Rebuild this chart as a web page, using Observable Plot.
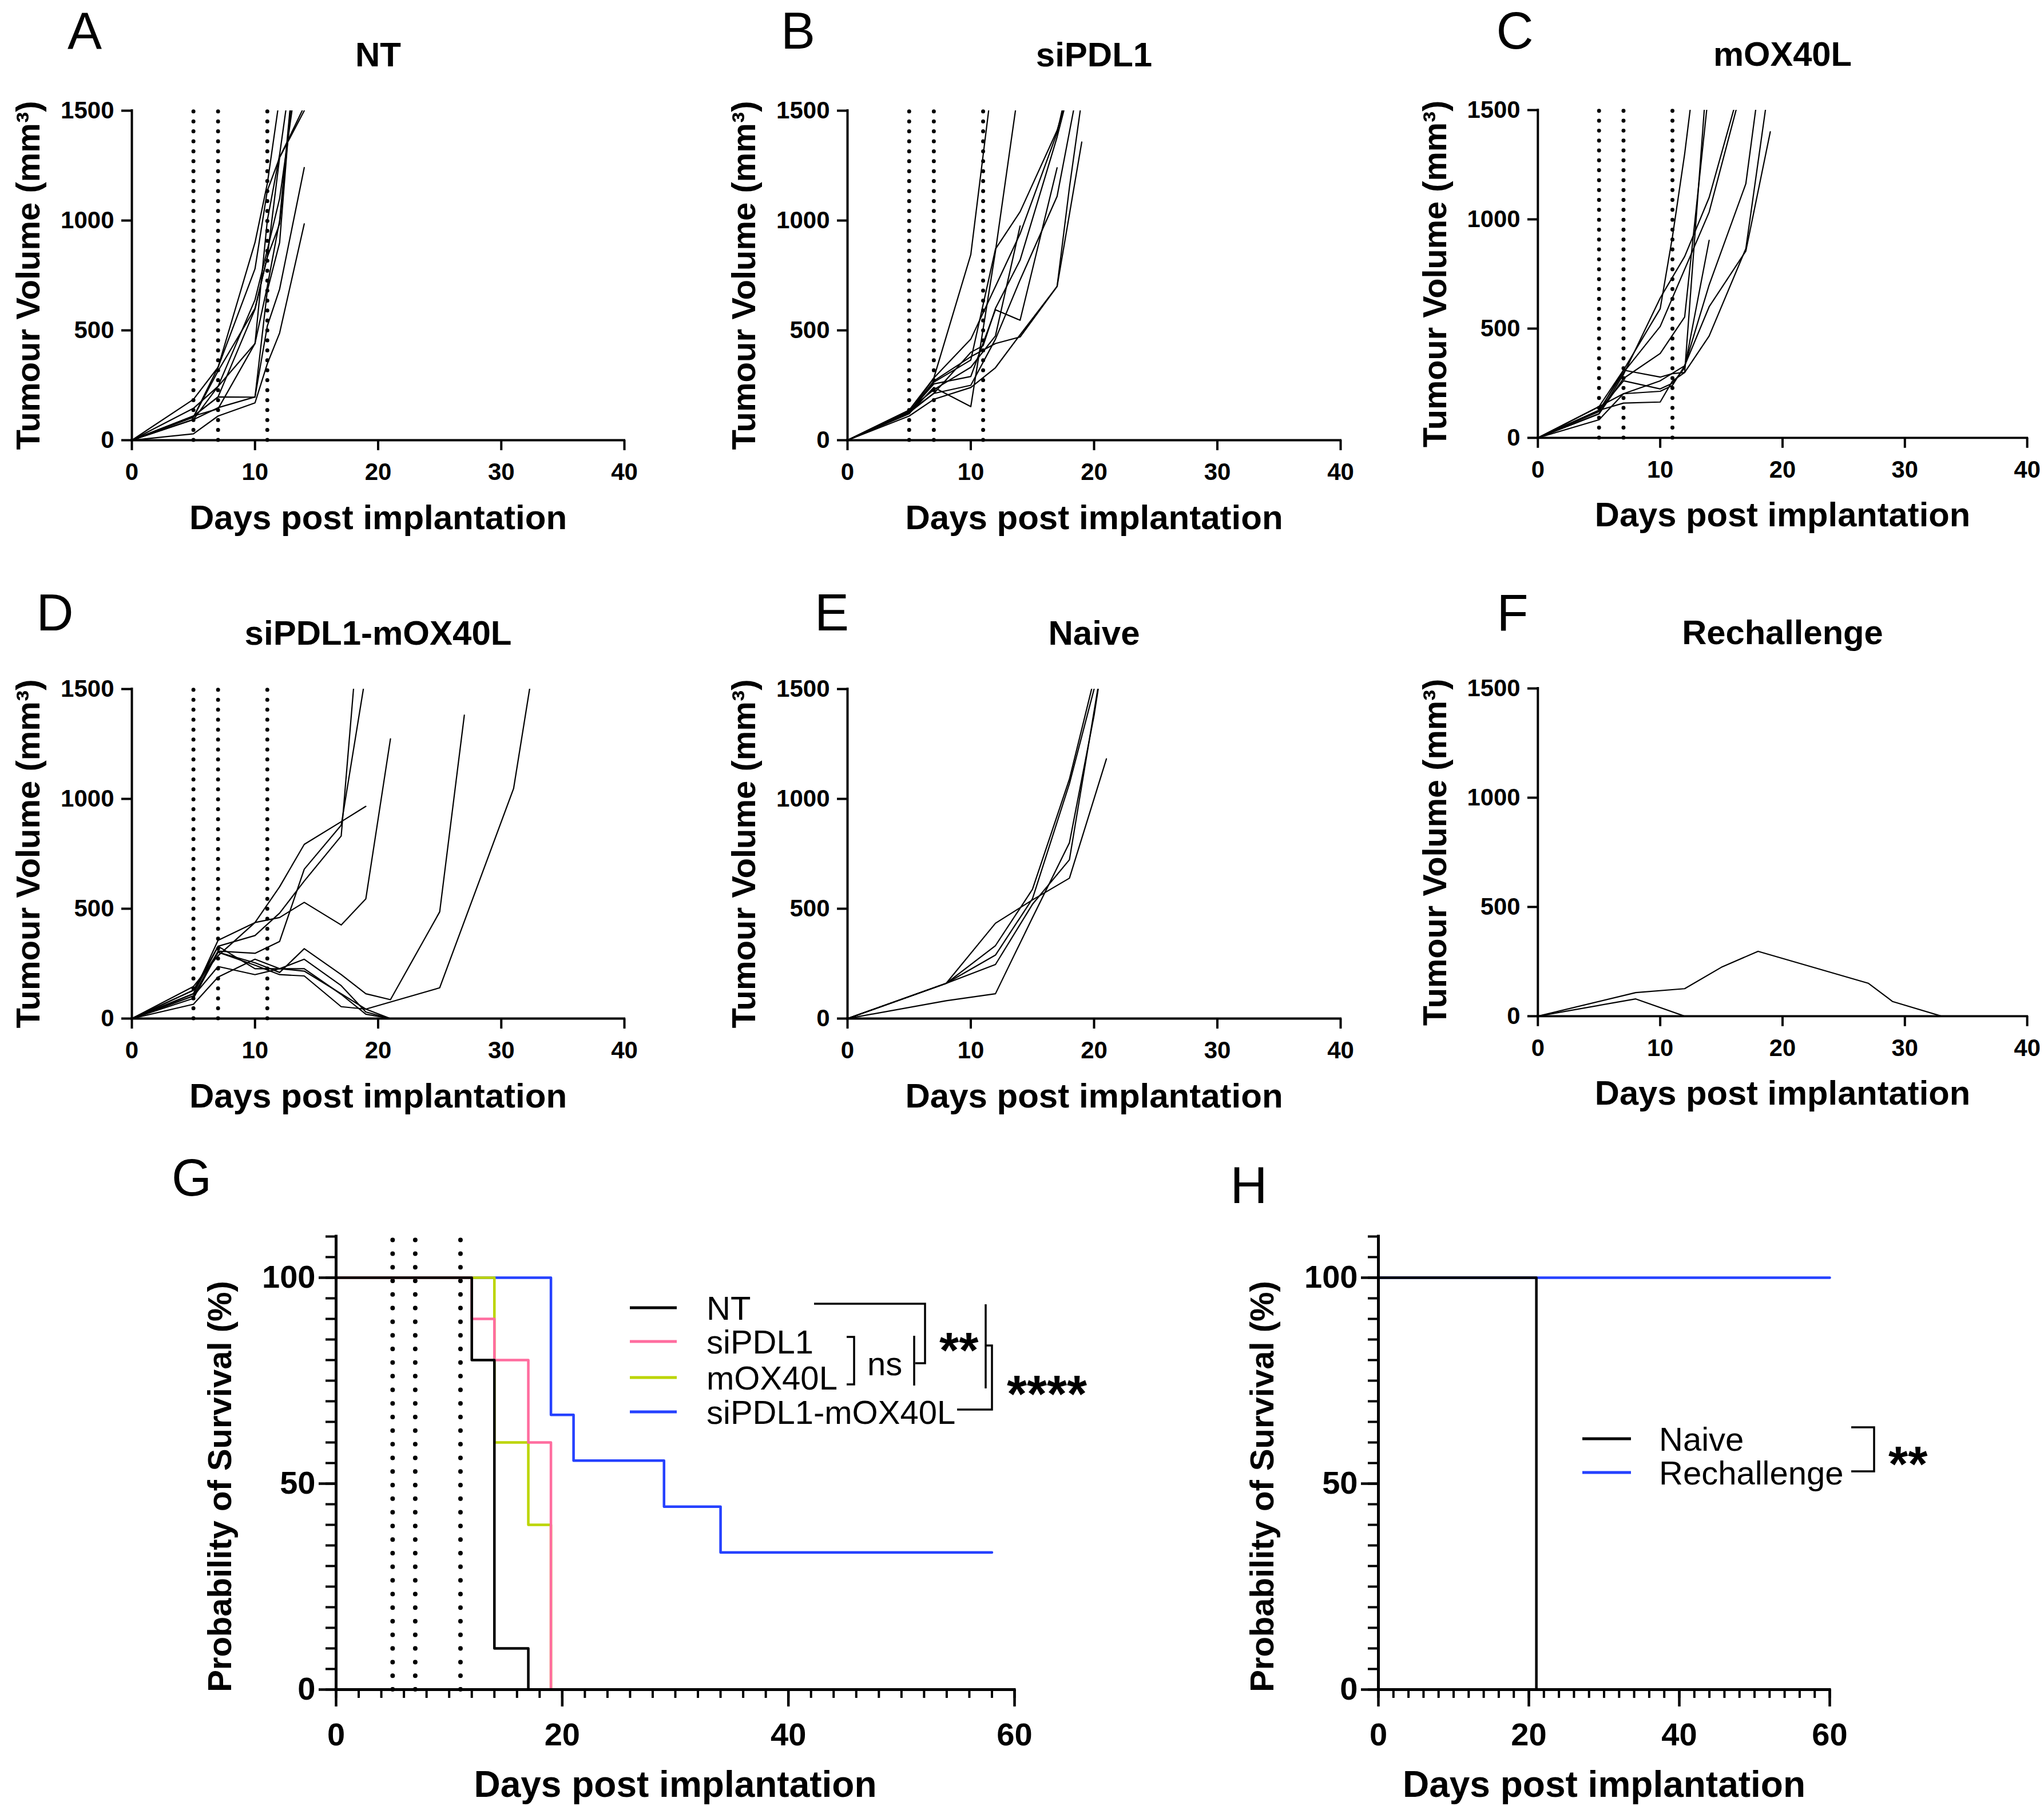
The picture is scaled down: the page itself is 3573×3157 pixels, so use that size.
<!DOCTYPE html>
<html><head><meta charset="utf-8">
<script src="https://cdn.jsdelivr.net/npm/d3@7"></script>
<script src="https://cdn.jsdelivr.net/npm/@observablehq/plot@0.6"></script>
<style>
html,body{margin:0;padding:0;background:#fff;}
#page{position:relative;width:3573px;height:3157px;overflow:hidden;background:#fff;}
.panel{position:absolute;}
#overlay{position:absolute;left:0;top:0;pointer-events:none;}
</style></head>
<body><div id="page"></div>
<script>
// ---------------- DATA ----------------
const doseDays = [5, 7, 11];
const xTicksTumour = [0, 10, 20, 30, 40];
const yTicksTumour = [0, 500, 1000, 1500];
const xTicksSurv = [0, 20, 40, 60];
const yTicksSurv = [0, 50, 100];

// tumour volume (mm3) per mouse: [day, volume]
const ntMice = [
  [[0,0],[5,29],[7,110],[10,170],[11,348],[12,488],[14,985]],
  [[0,0],[5,94],[7,148],[10,197],[11,520],[12,688],[14,1241]],
  [[0,0],[5,105],[7,332],[10,780],[11,1136],[12,1287],[14,1500]],
  [[0,0],[5,186],[7,332],[10,900],[11,1168],[12,1560]],
  [[0,0],[5,145],[7,245],[10,639],[11,866],[12,1100],[13,1500]],
  [[0,0],[5,110],[7,197],[10,596],[11,834],[12,985],[13,1560]],
  [[0,0],[5,110],[7,143],[10,440],[11,700],[12,1000],[13,1600]],
  [[0,0],[5,105],[7,315],[10,600],[11,834],[12,1287],[14,1520]],
  [[0,0],[5,94],[7,245],[10,440],[11,1000],[12,1300],[13,1700]],
  [[0,0],[5,110],[7,197],[10,196],[11,680],[12,900],[13,1600]]
];
const siPDL1Mice = [
  [[0,0],[5,137],[7,283],[10,845],[12,1750]],
  [[0,0],[5,121],[7,240],[10,153],[12,860],[14,1650]],
  [[0,0],[5,130],[7,256],[10,290],[12,594],[14,546],[17,1240]],
  [[0,0],[5,121],[7,264],[10,365],[12,870],[14,1040],[17,1410],[18,1600]],
  [[0,0],[5,125],[7,213],[10,250],[12,460],[14,730],[17,1110],[18.5,1550]],
  [[0,0],[5,110],[7,186],[10,240],[12,330],[14,480],[17,700],[18,1150],[19,1550]],
  [[0,0],[5,137],[7,230],[10,332],[12,475],[14,975]],
  [[0,0],[5,121],[7,270],[10,380],[12,440],[14,470],[17,700],[19,1357]],
  [[0,0],[5,130],[7,213],[10,400],[11,430],[12,600],[14,820],[17,1380],[18,1600]],
  [[0,0],[5,125],[7,283],[10,460],[12,700],[14,940],[17,1400],[18,1650]]
];
const mOX40LMice = [
  [[0,0],[5,143],[7,310],[10,591],[11,920],[12,1300],[13,1750]],
  [[0,0],[5,126],[7,299],[10,510],[14,1033],[16.2,1500],[17,1700]],
  [[0,0],[5,110],[7,272],[10,386],[12,553],[13.8,1500],[14,1560]],
  [[0,0],[5,120],[7,310],[10,278],[11,294],[12,299],[13.6,1500],[14,1560]],
  [[0,0],[5,126],[7,261],[10,224],[11,250],[12,320],[14,904]],
  [[0,0],[5,143],[7,202],[10,213],[11,240],[12,330],[14,700],[17,1163],[17.8,1500],[18,1560]],
  [[0,0],[5,126],[7,159],[10,164],[11,260],[12,299],[14,466],[17,866],[18.6,1500],[19,1560]],
  [[0,0],[5,83],[7,202],[10,261],[12,330],[14,600],[17,855],[19,1401]],
  [[0,0],[5,110],[7,290],[10,640],[12,830],[14,1100],[16,1500],[17,1600]]
];
const comboMice = [
  [[0,0],[5,146],[7,286],[10,437],[12,600],[14,793],[17,896],[19,966]],
  [[0,0],[5,129],[7,329],[10,378],[12,480],[14,626],[17,831],[18,1500],[19,1900]],
  [[0,0],[5,103],[7,307],[10,297],[12,351],[14,680],[17,880],[18.8,1500],[19,1560]],
  [[0,0],[5,113],[7,356],[10,437],[12,460],[14,529],[17,426],[19,545],[21,1273]],
  [[0,0],[5,92],[7,302],[10,254],[12,210],[14,318],[17,200],[19,113],[21,86],[25,486],[27,1381]],
  [[0,0],[5,65],[7,189],[10,270],[12,227],[14,216],[17,113],[19,43],[25,140],[31,1047],[32.3,1500],[33,1600]],
  [[0,0],[5,113],[7,329],[10,227],[12,227],[14,270],[17,150],[19,30],[21,0]],
  [[0,0],[5,129],[7,302],[10,243],[12,200],[14,194],[17,54],[19,43],[21,0]],
  [[0,0],[5,103],[7,237],[10,200],[12,227],[14,227],[17,110],[19,20],[21,0]]
];
const naiveMice = [
  [[0,0],[8,160],[12,434],[15,540],[18,639],[21,1182]],
  [[0,0],[8,160],[12,332],[15,588],[18,1090],[19.8,1500],[20,1560]],
  [[0,0],[8,160],[12,289],[15,545],[18,1069],[20,1500],[20.2,1560]],
  [[0,0],[8,160],[12,246],[15,520],[18,723],[20.3,1500],[20.5,1560]],
  [[0,0],[8,81],[12,113],[15,459],[18,800],[20,1380],[20.5,1560]]
];
const rechallengeMice = [
  [[0,0],[8,108],[12,126],[15,224],[18,297],[27,151],[29,67],[33,0]],
  [[0,0],[8,79],[12,0]]
];

// survival (%) : [day, percent]
const survGroupsG = ["NT", "siPDL1", "mOX40L", "siPDL1-mOX40L"];
const survColorsG = ["#000000", "#ff6d9f", "#bcd500", "#2541ff"];
const ntSurvival = [[0,100],[12,80],[14,10],[17,0]];
const siPDL1Survival = [[0,100],[12,90],[14,80],[17,60],[19,0]];
const mOX40LSurvival = [[0,100],[14,60],[17,40],[19,0]];
const comboSurvival = [[0,100],[19,66.7],[21,55.6],[29,44.4],[34,33.3],[58,33.3]];

const survGroupsH = ["Naive", "Rechallenge"];
const survColorsH = ["#000000", "#2541ff"];
const naiveSurvival = [[0,100],[21,0]];
const rechallengeSurvival = [[0,100],[60,100]];

const panelLetters = ["A","B","C","D","E","F","G","H"];
const yTitleTumour = "Tumour Volume (mm³)";
const yTitleSurv = "Probability of Survival (%)";
const xTitle = "Days post implantation";

// ---------------- RENDER ----------------
const FONT = '"Liberation Sans", Arial, Helvetica, sans-serif';
const fmt = d3.format("d");
const page = document.getElementById("page");
function place(el, left, top) {
  const d = document.createElement("div");
  d.className = "panel";
  d.style.left = left + "px";
  d.style.top = top + "px";
  d.appendChild(el);
  page.appendChild(d);
}
const centred = {textAnchor: "middle", lineAnchor: "middle", fill: "black", fontWeight: "bold"};

function tumourPanel(mice, title, dots, frameW) {
  const rows = mice.flatMap((m, i) => m.map(([day, vol]) => ({mouse: i, day, vol})));
  return Plot.plot({
    width: 230 + frameW + 30, height: 959,
    marginLeft: 230, marginRight: 30, marginTop: 193, marginBottom: 190,
    style: {fontFamily: FONT, fontSize: "42px", fontWeight: "bold", background: "transparent", color: "black", overflow: "visible"},
    x: {domain: [0, 40], label: null},
    y: {domain: [0, 1500], label: null},
    marks: [
      dots ? Plot.ruleX(doseDays, {y1: 0, y2: 1500, stroke: "black", strokeWidth: 7, strokeDasharray: "0 17.4", strokeLinecap: "round"}) : null,
      Plot.line(rows, {x: "day", y: "vol", z: "mouse", stroke: "black", strokeWidth: 2.2, clip: true}),
      Plot.ruleX([0], {stroke: "black", strokeWidth: 4, strokeLinecap: "square"}),
      Plot.ruleY([0], {stroke: "black", strokeWidth: 4, strokeLinecap: "square"}),
      Plot.axisX(xTicksTumour, {tickSize: 18, tickPadding: 22, strokeWidth: 4, fontSize: 42, fontWeight: "bold", tickFormat: fmt, label: null}),
      Plot.axisY(yTicksTumour, {tickSize: 18, tickPadding: 13, strokeWidth: 4, fontSize: 42, fontWeight: "bold", tickFormat: fmt, label: null}),
      Plot.text([title], {...centred, text: d => d, frameAnchor: "top", dy: -97, fontSize: 60}),
      Plot.text([yTitleTumour], {...centred, text: d => d, frameAnchor: "left", dx: -180, rotate: -90, fontSize: 58}),
      Plot.text([xTitle], {...centred, text: d => d, frameAnchor: "bottom", dy: 136, fontSize: 60})
    ]
  });
}

function survivalPanel(seriesList, groups, colors, frameW, dots) {
  const rows = [];
  // draw last group first so the first group sits on top
  for (let g = groups.length - 1; g >= 0; g--) {
    seriesList[g].forEach(([day, pct]) => rows.push({group: groups[g], day, pct}));
  }
  return Plot.plot({
    width: 409 + frameW + 80, height: 1157,
    marginLeft: 409, marginRight: 80, marginTop: 161, marginBottom: 204,
    style: {fontFamily: FONT, fontSize: "56px", fontWeight: "bold", background: "transparent", color: "black", overflow: "visible"},
    x: {domain: [0, 60], label: null},
    y: {domain: [0, 110], label: null},
    color: {domain: groups, range: colors},
    marks: [
      dots ? Plot.ruleX(doseDays, {y1: 0, y2: 110, stroke: "black", strokeWidth: 8, strokeDasharray: "0 23.8", strokeLinecap: "round"}) : null,
      Plot.line(rows, {x: "day", y: "pct", z: "group", stroke: "group", curve: "step-after", strokeWidth: 4.5}),
      Plot.ruleX([0], {stroke: "black", strokeWidth: 5, strokeLinecap: "square"}),
      Plot.ruleY([0], {stroke: "black", strokeWidth: 5, strokeLinecap: "square"}),
      Plot.axisX(d3.range(0, 61, 2), {tickSize: 15, strokeWidth: 4, tickFormat: () => "", label: null}),
      Plot.axisY(d3.range(0, 111, 5), {tickSize: 18, strokeWidth: 4, tickFormat: () => "", label: null}),
      Plot.axisX(xTicksSurv, {tickSize: 30, tickPadding: 28, strokeWidth: 4.5, fontSize: 56, fontWeight: "bold", tickFormat: fmt, label: null}),
      Plot.axisY(yTicksSurv, {tickSize: 30, tickPadding: 6, strokeWidth: 4.5, fontSize: 56, fontWeight: "bold", tickFormat: fmt, label: null}),
      Plot.text([yTitleSurv], {...centred, text: d => d, frameAnchor: "left", dx: -202, dy: 41, rotate: -90, fontSize: 58}),
      Plot.text([xTitle], {...centred, text: d => d, frameAnchor: "bottom", dy: 167, fontSize: 64})
    ]
  });
}

place(tumourPanel(ntMice, "NT", true, 861), 0, 0);
place(tumourPanel(siPDL1Mice, "siPDL1", true, 862), 1251, 0);
place(tumourPanel(mOX40LMice, "mOX40L", true, 860), 2459, 0);
place(tumourPanel(comboMice, "siPDL1-mOX40L", true, 861), 0, 1011);
place(tumourPanel(naiveMice, "Naive", false, 862), 1251, 1011);
place(tumourPanel(rechallengeMice, "Rechallenge", false, 860), 2459, 1011);
place(survivalPanel([ntSurvival, siPDL1Survival, mOX40LSurvival, comboSurvival], survGroupsG, survColorsG, 1186, true), 178, 2000);
place(survivalPanel([naiveSurvival, rechallengeSurvival], survGroupsH, survColorsH, 789, false), 2000, 2000);

// ---------------- OVERLAY: panel letters, legends, significance brackets ----------------
const ov = d3.create("svg").attr("id", "overlay").attr("width", 3573).attr("height", 3157)
  .style("font-family", FONT);
// [x centre, baseline]
const letterPos = [[148,85],[1395,85],[2648,85],[96,1102],[1454,1102],[2644,1102],[335,2090],[2183,2103]];
panelLetters.forEach((L, i) => {
  ov.append("text").attr("x", letterPos[i][0]).attr("y", letterPos[i][1])
    .attr("text-anchor", "middle").attr("font-size", 90).attr("fill", "black").text(L);
});
function legend(groups, colors, x1, x2, tx, ys) {
  groups.forEach((g, i) => {
    ov.append("line").attr("x1", x1).attr("x2", x2).attr("y1", ys[i]).attr("y2", ys[i])
      .attr("stroke", colors[i]).attr("stroke-width", 5);
    ov.append("text").attr("x", tx).attr("y", ys[i] + 21).attr("font-size", 58)
      .attr("fill", "black").text(g);
  });
}
legend(survGroupsG, survColorsG, 1101, 1183, 1235, [2286, 2345, 2408, 2468]);
legend(survGroupsH, survColorsH, 2766, 2851, 2900, [2515, 2574]);

const br = (d) => ov.append("path").attr("d", d).attr("fill", "none").attr("stroke", "black").attr("stroke-width", 3.5);
br("M1423,2279 H1617 V2383 H1600");
br("M1480,2337 H1493 V2420 H1480");
br("M1598,2335 V2422");
br("M1723,2280 V2427");
br("M1723,2352 H1734 V2464 H1673");
br("M3236,2495 H3276 V2572 H3236");
ov.append("text").attr("x", 1516).attr("y", 2404).attr("font-size", 58).attr("fill", "black").text("ns");
ov.append("text").attr("x", 1642).attr("y", 2390).attr("font-size", 88).attr("font-weight", "bold").attr("fill", "black").text("**");
ov.append("text").attr("x", 1760).attr("y", 2468).attr("font-size", 90).attr("font-weight", "bold").attr("fill", "black").text("****");
ov.append("text").attr("x", 3301).attr("y", 2589).attr("font-size", 88).attr("font-weight", "bold").attr("fill", "black").text("**");
page.appendChild(ov.node());
</script>
</body></html>
